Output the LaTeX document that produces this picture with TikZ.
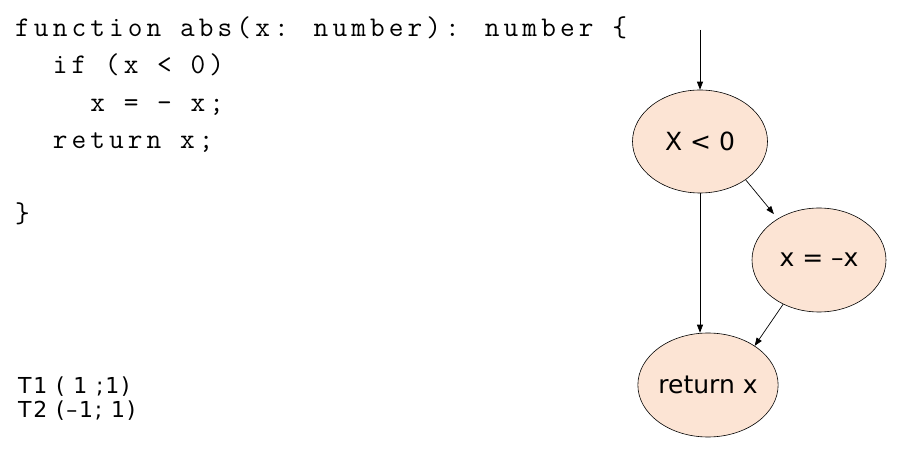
\documentclass[tikz,border=0pt]{standalone}
\usepackage{fontspec}
\setmainfont{DejaVu Sans}
\newfontfamily\codefont[LetterSpace=14.4]{Latin Modern Mono}
\newfontfamily\tfont[LetterSpace=8]{DejaVu Sans}
\usetikzlibrary{shapes.geometric,arrows.meta}
\definecolor{peach}{RGB}{252,228,212}
\tikzset{
  stnode/.style={ellipse,draw=black,line width=0.6pt,fill=peach,inner sep=0pt,font=\fontsize{25}{30}\selectfont},
  code/.style={anchor=base west,inner sep=0pt,font=\codefont\fontsize{28.5}{34}\selectfont},
  tcase/.style={anchor=base west,inner sep=0pt,font=\tfont\fontsize{22}{26}\selectfont},
  flow/.style={draw=black,line width=0.7pt,-{Triangle[length=8pt,width=6pt]}}
}
\begin{document}
\begin{tikzpicture}[x=1pt,y=-1pt]
\useasboundingbox (0,0) rectangle (903,454);
% code
\node[code] (l1) at (15,36.8) {function abs(x: number): number \{};
\node[code] (l2) at (15,74.0) {\ \ if (x < 0)};
\node[code] (l3) at (15,111.2) {\ \ \ \ x = - x;};
\node[code] (l4) at (15,148.2) {\ \ return x;};
\node[code] (l5) at (15,222.3) {\}};
% test cases
\node[tcase] (t1) at (18,393.3) {T1 ( 1 ;1)};
\node[tcase] (t2) at (18,417.3) {T2 (–1; 1)};
% graph
\node[stnode,minimum width=135pt,minimum height=103pt] (e1) at (700,141.5) {X < 0};
\node[stnode,minimum width=134pt,minimum height=104pt] (e2) at (819,260) {x = –x};
\node[stnode,minimum width=132pt,minimum height=104pt] (e3) at (708,385) {return x};
\coordinate (start) at (700,30);
\draw[flow] (start) -- (e1.north);
\draw[flow] (e1.south) -- (e1.south |- e3.north);
\draw[flow,shorten >=6pt] (e1.-40) -- (e2.135);
\draw[flow] (e2.-129) -- (e3.40);
\end{tikzpicture}
\end{document}
